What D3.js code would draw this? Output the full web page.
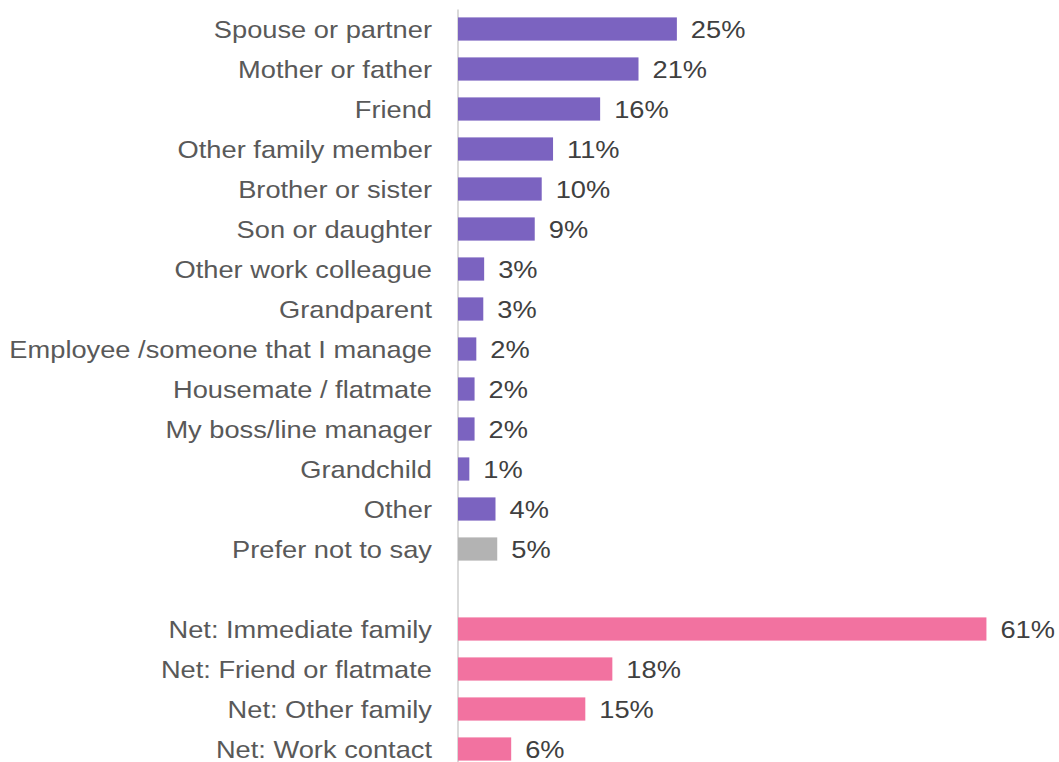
<!DOCTYPE html>
<html lang="en">
<head>
    <meta charset="UTF-8">
    <title>Who they told</title>
    <script src="https://d3js.org/d3.v7.min.js"></script>
    <style>
        body { margin: 0; padding: 0; background: #fff; }
        .label, .value { font-family: "Liberation Sans", Arial, sans-serif; font-size: 24px; }
        .label { fill: #595959; }
        .value { fill: #404040; }
    </style>
</head>
<body>
    <svg id="chart"></svg>
    <script>
        // 数据
        const categories = [
            "Spouse or partner", "Mother or father", "Friend", "Other family member",
            "Brother or sister", "Son or daughter", "Other work colleague", "Grandparent",
            "Employee /someone that I manage", "Housemate / flatmate", "My boss/line manager",
            "Grandchild", "Other", "Prefer not to say", "",
            "Net: Immediate family", "Net: Friend or flatmate", "Net: Other family", "Net: Work contact"
        ];
        const values = [25.1, 20.7, 16.3, 10.9, 9.6, 8.8, 3.0, 2.9, 2.1, 1.9, 1.9, 1.3, 4.3, 4.5, null, 60.6, 17.7, 14.6, 6.1];
        const valueLabels = ["25%", "21%", "16%", "11%", "10%", "9%", "3%", "3%", "2%", "2%", "2%", "1%", "4%", "5%", "", "61%", "18%", "15%", "6%"];
        const groups = ["main", "main", "main", "main", "main", "main", "main", "main", "main", "main", "main", "main", "main", "none", "", "net", "net", "net", "net"];

        const width = 1059, height = 762;
        const x0 = 458;
        const stretch = 1.136; // 原图文字横向拉伸

        const svg = d3.select("#chart").attr("width", width).attr("height", height);

        const x = d3.scaleLinear().domain([0, 100]).range([0, 872]);
        const y = d3.scaleBand().domain(d3.range(categories.length)).range([9, 769]).paddingInner(0.42).paddingOuter(0.21);
        const color = d3.scaleOrdinal().domain(["main", "none", "net"]).range(["#7b63c0", "#b3b3b3", "#f272a0"]);

        const rows = categories.map((c, i) => ({ i, c, v: values[i], lab: valueLabels[i], g: groups[i] }));
        const data = rows.filter(d => d.v !== null);

        // 纵轴线
        svg.append("g")
            .attr("transform", `translate(${x0 - 0.5},0)`)
            .call(d3.axisLeft(y).tickSize(0).tickFormat(""))
            .call(g => g.select(".domain").attr("stroke", "#d9d9d9").attr("stroke-width", 2));

        svg.selectAll(".bar")
            .data(data)
            .join("rect")
            .attr("class", "bar")
            .attr("x", x0)
            .attr("y", d => y(d.i))
            .attr("width", d => x(d.v))
            .attr("height", y.bandwidth())
            .attr("fill", d => color(d.g));

        const cy = d => y(d.i) + y.bandwidth() / 2;

        svg.selectAll(".label")
            .data(data)
            .join("text")
            .attr("class", "label")
            .attr("text-anchor", "end")
            .attr("dy", "0.36em")
            .attr("transform", d => `translate(432,${cy(d)}) scale(${stretch},1)`)
            .text(d => d.c);

        svg.selectAll(".value")
            .data(data)
            .join("text")
            .attr("class", "value")
            .attr("dy", "0.36em")
            .attr("transform", d => `translate(${x0 + x(d.v) + 14},${cy(d)}) scale(${stretch},1)`)
            .text(d => d.lab);
    </script>
</body>
</html>
